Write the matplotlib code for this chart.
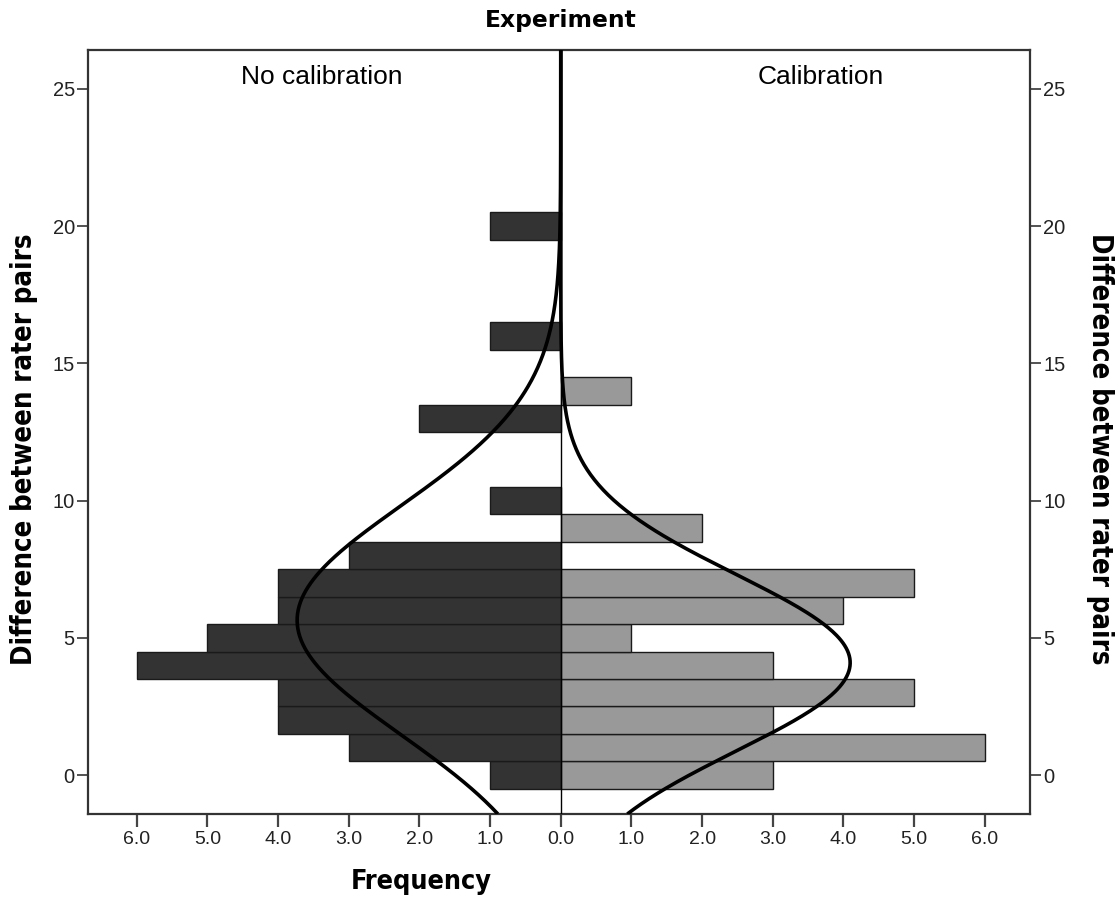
import numpy as np
import matplotlib
matplotlib.use("Agg")
import matplotlib.pyplot as plt

# Data: bin centres (difference between rater pairs) and frequencies
nocal_bins = [0, 1, 2, 3, 4, 5, 6, 7, 8, 10, 13, 16, 20]
nocal_freq = [1, 3, 4, 4, 6, 5, 4, 4, 3, 1, 2, 1, 1]
cal_bins = [0, 1, 2, 3, 4, 5, 6, 7, 9, 14]
cal_freq = [3, 6, 3, 5, 3, 1, 4, 5, 2, 1]
x_ticks = [-6, -5, -4, -3, -2, -1, 0, 1, 2, 3, 4, 5, 6]
y_ticks = [0, 5, 10, 15, 20, 25]
group_labels = ["No calibration", "Calibration"]

arial = ["Liberation Sans", "DejaVu Sans"]

fig = plt.figure(figsize=(11.2, 8.99), dpi=100)
ax = fig.add_axes([88/1120, 1-814/899, (1030-88)/1120, (814-50)/899])

binw = 1.0
ax.barh(nocal_bins, [-f for f in nocal_freq], height=binw, color="#333333",
        edgecolor="#1a1a1a", linewidth=1.0, zorder=2)
ax.barh(cal_bins, cal_freq, height=binw, color="#999999",
        edgecolor="#1a1a1a", linewidth=1.0, zorder=2)

ylo, yhi = -1.42, 26.42
ax.set_ylim(ylo, yhi)
ax.set_xlim(-6.69, 6.64)

def normal_curve(bins, freq, yy):
    b = np.array(bins, float); f = np.array(freq, float)
    n = f.sum()
    m = (b*f).sum()/n
    sd = np.sqrt(((b-m)**2*f).sum()/(n-1))
    return n*binw/(sd*np.sqrt(2*np.pi))*np.exp(-0.5*((yy-m)/sd)**2)

yy = np.linspace(ylo, yhi, 600)
ax.plot(-normal_curve(nocal_bins, nocal_freq, yy), yy, color="black", lw=2.6, zorder=4,
        solid_capstyle="butt")
ax.plot(normal_curve(cal_bins, cal_freq, yy), yy, color="black", lw=2.6, zorder=4,
        solid_capstyle="butt")
ax.axvline(0, color="black", lw=1.0, zorder=3)

for s in ax.spines.values():
    s.set_color("#333333")
    s.set_linewidth(1.6)

ax.set_xticks(x_ticks)
ax.set_xticklabels([f"{abs(v):.1f}" for v in x_ticks], family=arial, fontsize=14,
                   color="#222222")
ax.tick_params(axis="x", direction="out", length=9.5, width=1.6, color="#444444", pad=3)
ax.set_yticks(y_ticks)
ax.set_yticklabels([str(v) for v in y_ticks], family=arial, fontsize=14.5, color="#222222")
ax.tick_params(axis="y", direction="out", length=8, width=1.3, color="#444444",
               left=True, right=True, labelleft=True, labelright=True, pad=1.5)

fig.text(561/1120, 1-20/899, "Experiment", ha="center", va="center",
         fontsize=16.8, fontweight="bold", family=["DejaVu Sans"])
fig.text(322/1120, 1-77/899, group_labels[0], ha="center", va="center",
         fontsize=19, family=arial)
fig.text(821/1120, 1-77/899, group_labels[1], ha="center", va="center",
         fontsize=19, family=arial)
fig.text(421/1120, 1-882/899, "Frequency", ha="center", va="center",
         fontsize=19.4, fontweight="bold", family=["DejaVu Sans"], fontstretch="condensed")
fig.text(24/1120, 1-449/899, "Difference between rater pairs", ha="center", va="center",
         rotation=90, fontsize=19.8, fontweight="bold", family=["DejaVu Sans"],
         fontstretch="condensed")
fig.text(1100/1120, 1-449/899, "Difference between rater pairs", ha="center", va="center",
         rotation=-90, fontsize=19.8, fontweight="bold", family=["DejaVu Sans"],
         fontstretch="condensed")

fig.savefig("out.png", dpi=100)
